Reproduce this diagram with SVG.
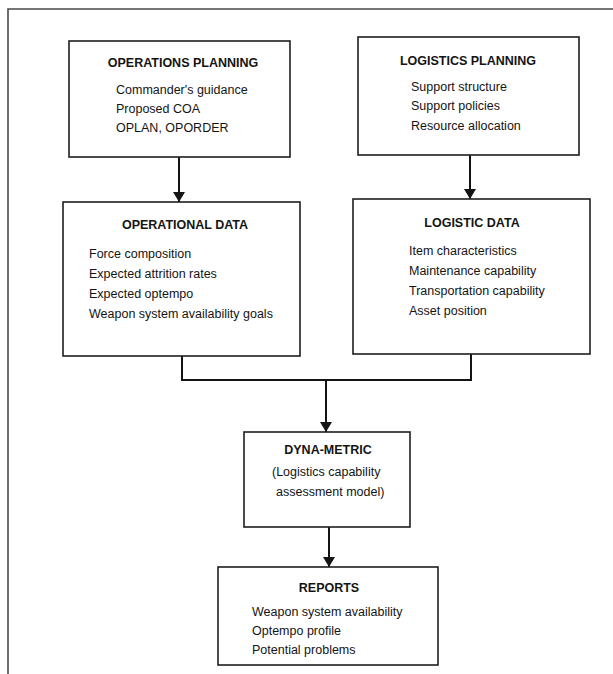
<svg xmlns="http://www.w3.org/2000/svg" width="613" height="674" viewBox="0 0 613 674">
<style>
  .box { fill: #fff; stroke: #1e1e1e; stroke-width: 1.6; }
  .title { font-family: "Liberation Sans", Arial, sans-serif; font-weight: bold; font-size: 12.5px; fill: #141414; text-anchor: middle; }
  .item { font-family: "Liberation Sans", Arial, sans-serif; font-size: 12.5px; fill: #141414; }
  .conn { fill: none; stroke: #141414; stroke-width: 2; }
  .frame { fill: none; stroke: #4a4a4a; stroke-width: 1.6; }
</style>
<defs>
  <marker id="arrow" viewBox="0 0 10 12" refX="10" refY="6" markerWidth="10" markerHeight="12" markerUnits="userSpaceOnUse" orient="auto">
    <path d="M0,0 L10,6 L0,12 Z" fill="#141414"/>
  </marker>
</defs>
<rect width="613" height="674" fill="#fff"/>
<path class="frame" d="M8,674 L8,9 L613,9"/>

<g id="connectors">
  <line class="conn" x1="179" y1="157" x2="179" y2="202" marker-end="url(#arrow)"/>
  <line class="conn" x1="470" y1="155" x2="470" y2="199" marker-end="url(#arrow)"/>
  <path class="conn" d="M182,356 L182,380 L471,380 L471,354"/>
  <line class="conn" x1="326" y1="380" x2="326" y2="432" marker-end="url(#arrow)"/>
  <line class="conn" x1="329" y1="527" x2="329" y2="567" marker-end="url(#arrow)"/>
</g>

<g id="operations-planning">
  <rect class="box" x="69" y="41" width="221" height="116"/>
  <text class="title" x="183" y="67">OPERATIONS PLANNING</text>
  <text class="item" x="116" y="94">Commander's guidance</text>
  <text class="item" x="116" y="113">Proposed COA</text>
  <text class="item" x="116" y="132">OPLAN, OPORDER</text>
</g>

<g id="logistics-planning">
  <rect class="box" x="358" y="37" width="221" height="118"/>
  <text class="title" x="468" y="65">LOGISTICS PLANNING</text>
  <text class="item" x="411" y="91">Support structure</text>
  <text class="item" x="411" y="110">Support policies</text>
  <text class="item" x="411" y="130">Resource allocation</text>
</g>

<g id="operational-data">
  <rect class="box" x="63" y="202" width="237" height="154"/>
  <text class="title" x="185" y="229">OPERATIONAL DATA</text>
  <text class="item" x="89" y="258">Force composition</text>
  <text class="item" x="89" y="278">Expected attrition rates</text>
  <text class="item" x="89" y="298">Expected optempo</text>
  <text class="item" x="89" y="318">Weapon system availability goals</text>
</g>

<g id="logistic-data">
  <rect class="box" x="353" y="199" width="237" height="155"/>
  <text class="title" x="472" y="227">LOGISTIC DATA</text>
  <text class="item" x="409" y="255">Item characteristics</text>
  <text class="item" x="409" y="275">Maintenance capability</text>
  <text class="item" x="409" y="295">Transportation capability</text>
  <text class="item" x="409" y="315">Asset position</text>
</g>

<g id="dyna-metric">
  <rect class="box" x="244" y="432" width="166" height="95"/>
  <text class="title" x="328" y="454">DYNA-METRIC</text>
  <text class="item" x="272" y="476">(Logistics capability</text>
  <text class="item" x="276" y="496">assessment model)</text>
</g>

<g id="reports">
  <rect class="box" x="218" y="567" width="220" height="98"/>
  <text class="title" x="329" y="592">REPORTS</text>
  <text class="item" x="252" y="616">Weapon system availability</text>
  <text class="item" x="252" y="635">Optempo profile</text>
  <text class="item" x="252" y="654">Potential problems</text>
</g>
</svg>
